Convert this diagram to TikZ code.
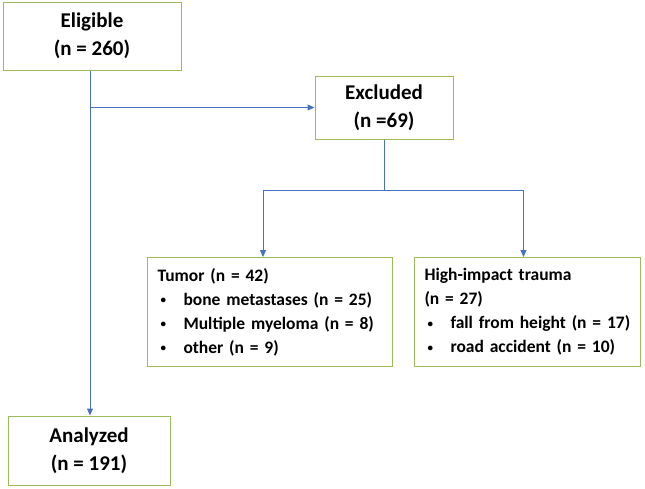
\documentclass[tikz,border=0pt]{standalone}
\usepackage{fontspec}
\setmainfont{Carlito}
\usetikzlibrary{arrows.meta}

\definecolor{boxgreen}{HTML}{9BBB59}
\definecolor{arrowblue}{HTML}{4472C4}

\newcommand{\bulletitem}[1]{\hspace*{3pt}\makebox[23pt][l]{\raisebox{1.5pt}{\fontsize{11}{11}\selectfont\textbullet}}#1}

\begin{document}
\begin{tikzpicture}
% Style
[
    x=1pt, y=-1pt,
    flow box/.style={draw=boxgreen, line width=1pt, align=center, inner sep=0pt,
        font=\fontsize{21}{28}\selectfont\bfseries},
    list box/.style={draw=boxgreen, line width=1pt, align=left, anchor=north west,
        inner sep=10pt, minimum height=109pt, font=\fontsize{17.5}{24}\selectfont\bfseries},
    flow line/.style={draw=arrowblue, line width=1pt},
    flow arrow/.style={flow line, -{Triangle[length=7pt,width=6pt]}}
]

\useasboundingbox (0,0) rectangle (645,488);

%================================== Boxes ==================================
\node[flow box, minimum width=178pt, minimum height=68pt] (eligible) at (92,36)
    {Eligible\\(n = 260)};
\node[flow box, minimum width=138pt, minimum height=63pt] (excluded) at (384,107.5)
    {Excluded\\(n =69)};
\node[flow box, minimum width=162pt, minimum height=69pt] (analyzed) at (89,450.5)
    {Analyzed\\(n = 191)};

\node[list box, text width=225pt] (tumor) at (147,257)
    {Tumor (n = 42)\\
     \bulletitem{bone metastases (n = 25)}\\
     \bulletitem{Multiple myeloma (n = 8)}\\
     \bulletitem{other (n = 9)}};
\node[list box, text width=206pt] (trauma) at (414,257)
    {High-impact trauma\\
     (n = 27)\\
     \bulletitem{fall from height (n = 17)}\\
     \bulletitem{road accident (n = 10)}};

%================================== Arrows =================================
\coordinate (split) at ([yshift=-51pt]excluded.south);

\draw[flow arrow] ([xshift=-2pt]eligible.south) -- ([xshift=-2pt]eligible.south |- analyzed.north);
\draw[flow arrow] ([xshift=-2pt]eligible.south |- excluded.west) -- (excluded.west);
\draw[flow line] (excluded.south) -- (split);
\draw[flow arrow] (split) -| ([xshift=-7pt]tumor.north);
\draw[flow arrow] (split) -| ([xshift=-4pt]trauma.north);

\end{tikzpicture}
\end{document}
